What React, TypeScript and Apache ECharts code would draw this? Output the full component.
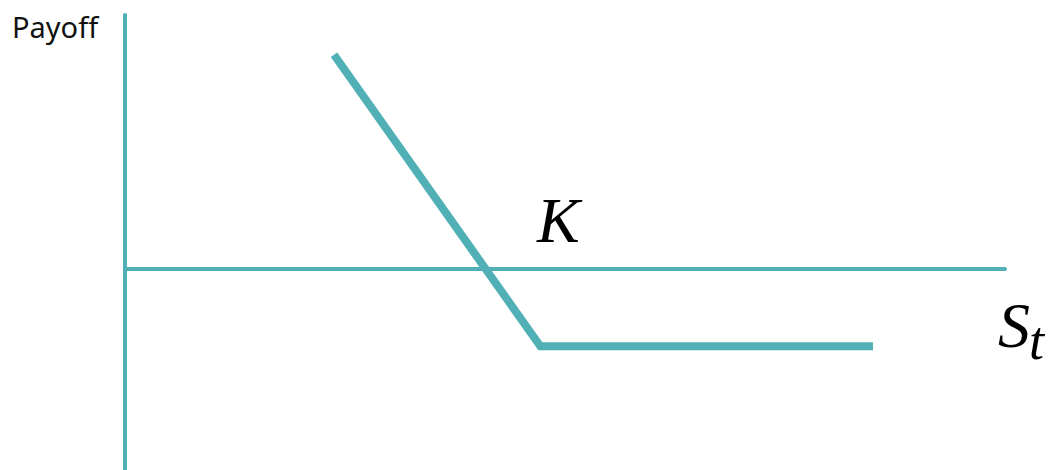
import React, { useEffect, useRef } from "react";
import * as echarts from "echarts";

// Spot price S_t (x) and payoff (y) of the diagram's payoff line
const spot = [23.75, 47.2, 85.0];
const payoff = [21.3, -7.7, -7.7];
const axisTitleY = "Payoff";
const strikeLabel = "K";
const spotLabel = "S";
const spotSub = "t";

const TEAL = "#50b0b6";

export default function App() {
  const ref = useRef<HTMLDivElement>(null);
  useEffect(() => {
    if (!ref.current) return;
    const chart = echarts.init(ref.current, undefined, { renderer: "svg" });
    const data = spot.map((s, i) => [s, payoff[i]]);
    chart.setOption({
      animation: false,
      backgroundColor: "#ffffff",
      grid: { left: 125, right: 46, top: 15, bottom: 0 },
      xAxis: {
        type: "value",
        min: 0,
        max: 100,
        axisLine: { show: true, onZero: true, lineStyle: { color: TEAL, width: 4 } },
        axisTick: { show: false },
        axisLabel: { show: false },
        splitLine: { show: false },
      },
      yAxis: {
        type: "value",
        min: -20,
        max: 25.25,
        axisLine: { show: true, onZero: false, lineStyle: { color: TEAL, width: 4 } },
        axisTick: { show: false },
        axisLabel: { show: false },
        splitLine: { show: false },
      },
      series: [
        {
          type: "line",
          data,
          symbol: "none",
          lineStyle: { color: TEAL, width: 8, cap: "butt", join: "miter" },
          z: 3,
        },
      ],
      graphic: [
        {
          type: "text",
          left: 12,
          top: 12,
          style: {
            text: axisTitleY,
            font: '29px "Noto Sans"',
            fill: "#111111",
          },
        },
        {
          type: "text",
          x: 537,
          y: 220,
          style: {
            text: strikeLabel,
            font: 'italic 64px "Liberation Serif"',
            fill: "#000000",
            verticalAlign: "middle",
            align: "left",
          },
        },
        {
          type: "text",
          x: 998,
          y: 325,
          style: {
            text: spotLabel,
            font: 'italic 64px "Liberation Serif"',
            fill: "#000000",
            verticalAlign: "middle",
            align: "left",
          },
        },
        {
          type: "text",
          x: 1029,
          y: 341,
          style: {
            text: spotSub,
            font: 'italic 54px "Liberation Serif"',
            fill: "#000000",
            verticalAlign: "middle",
            align: "left",
          },
        },
      ],
    });
    return () => chart.dispose();
  }, []);
  return (
    <div
      ref={ref}
      style={{ position: "fixed", left: 0, top: 0, width: 1051, height: 470 }}
    />
  );
}
